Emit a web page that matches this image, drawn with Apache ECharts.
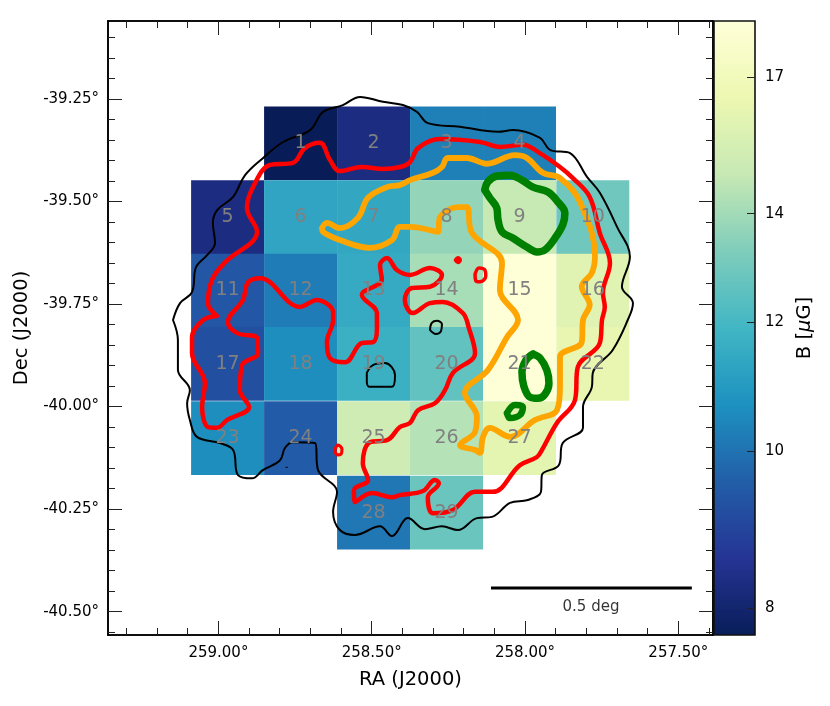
<!DOCTYPE html>
<html><head><meta charset="utf-8">
<style>html,body{margin:0;padding:0;background:#fff}#c{width:830px;height:706px}</style>
<script src="https://cdn.jsdelivr.net/npm/echarts@6/dist/echarts.min.js"></script>
</head><body><div id="c"></div>
<script>
const raMajor=[259.0,258.5,258.0,257.5];
const raMinor=[259.3,259.2,259.1,258.9,258.8,258.7,258.6,258.4,258.3,258.2,258.1,257.9,257.8,257.7,257.6,257.4];
const decMajor=[-39.25,-39.5,-39.75,-40.0,-40.25,-40.5];
const decMinor=[-39.1,-39.15,-39.2,-39.3,-39.35,-39.4,-39.45,-39.55,-39.6,-39.65,-39.7,-39.8,-39.85,-39.9,-39.95,-40.05,-40.1,-40.15,-40.2,-40.3,-40.35,-40.4,-40.45,-40.55];
const colorbarTicks=[8,10,12,14,17];
const bRange=[7.7,18.4];
const raRange=[257.387,259.36];
const decRange=[-40.557,-39.06];
const ylgnbuR=['#081d58','#253494','#225ea8','#1d91c0','#41b6c4','#7fcdbb','#c7e9b4','#edf8b1','#ffffd9'];

const cellRa=[258.732,258.494,258.256,258.018,
 258.970,258.732,258.494,258.256,258.018,257.779,
 258.970,258.732,258.494,258.256,258.018,257.779,
 258.970,258.732,258.494,258.256,258.018,257.779,
 258.970,258.732,258.494,258.256,258.018,
 258.494,258.256];
const cellDec=[-39.3585,-39.3585,-39.3585,-39.3585,
 -39.538,-39.538,-39.538,-39.538,-39.538,-39.538,
 -39.717,-39.717,-39.717,-39.717,-39.717,-39.717,
 -39.896,-39.896,-39.896,-39.896,-39.896,-39.896,
 -40.077,-40.077,-40.077,-40.077,-40.077,
 -40.2585,-40.2585];
const cellB=[7.7,8.3,10.3,10.3,
 8.3,11.3,11.4,13.7,14.8,12.9,
 9.4,10.2,11.5,14.1,18.3,15.9,
 9.2,10.6,11.7,12.6,18.3,16.3,
 10.6,9.5,15.1,14.4,16.1,
 10.1,12.8];
const cellHalfRa=0.119, cellHalfDec=0.0898;

const blackOuter=[[259.148,-39.789],[259.125,-39.748],[259.086,-39.721],[259.073,-39.660],[259.037,-39.631],[259.011,-39.601],[259.018,-39.552],[259.004,-39.521],[258.952,-39.489],[258.913,-39.436],[258.854,-39.394],[258.789,-39.355],[258.701,-39.326],[258.659,-39.282],[258.594,-39.265],[258.538,-39.245],[258.463,-39.257],[258.398,-39.265],[258.352,-39.282],[258.317,-39.309],[258.212,-39.318],[258.088,-39.330],[258.039,-39.326],[257.951,-39.345],[257.919,-39.374],[257.853,-39.382],[257.798,-39.440],[257.756,-39.479],[257.700,-39.562],[257.658,-39.635],[257.684,-39.708],[257.648,-39.748],[257.665,-39.789],[257.714,-39.862],[257.779,-39.918],[257.782,-39.952],[257.811,-40.001],[257.811,-40.052],[257.877,-40.089],[257.890,-40.143],[257.945,-40.167],[257.948,-40.208],[257.991,-40.228],[258.049,-40.235],[258.108,-40.269],[258.157,-40.272],[258.219,-40.301],[258.271,-40.292],[258.326,-40.299],[258.382,-40.272],[258.434,-40.316],[258.473,-40.292],[258.555,-40.313],[258.604,-40.301],[258.626,-40.257],[258.613,-40.208],[258.675,-40.155],[258.685,-40.089],[258.757,-40.087],[258.783,-40.101],[258.799,-40.131],[258.855,-40.155],[258.890,-40.175],[258.936,-40.167],[258.952,-40.106],[258.995,-40.089],[259.070,-40.074],[259.093,-40.033],[259.102,-39.992],[259.093,-39.960],[259.132,-39.911],[259.132,-39.838]];
const blackCell19=[[258.516,-39.918],[258.496,-39.899],[258.457,-39.894],[258.424,-39.923],[258.434,-39.952],[258.506,-39.952],[258.516,-39.940]];
const blackCell14=[[258.310,-39.813],[258.304,-39.796],[258.287,-39.791],[258.271,-39.799],[258.274,-39.816],[258.291,-39.823]];
const blackDot=[[258.780,-40.148],[258.775,-40.148]];

const redMain=[[259.005,-39.779],[259.034,-39.748],[259.021,-39.691],[258.978,-39.648],[258.874,-39.574],[258.907,-39.516],[258.887,-39.465],[258.832,-39.411],[258.757,-39.406],[258.718,-39.370],[258.669,-39.357],[258.636,-39.399],[258.604,-39.426],[258.532,-39.416],[258.463,-39.421],[258.408,-39.416],[258.375,-39.404],[258.349,-39.370],[258.278,-39.348],[258.147,-39.355],[258.082,-39.367],[258.007,-39.362],[257.952,-39.382],[257.886,-39.416],[257.844,-39.443],[257.789,-39.489],[257.756,-39.577],[257.723,-39.650],[257.746,-39.723],[257.740,-39.757],[257.749,-39.789],[257.756,-39.845],[257.828,-39.904],[257.837,-39.984],[257.896,-40.040],[257.945,-40.106],[257.961,-40.123],[258.017,-40.143],[258.105,-40.208],[258.163,-40.208],[258.235,-40.252],[258.300,-40.260],[258.317,-40.221],[258.281,-40.187],[258.294,-40.179],[258.333,-40.206],[258.408,-40.216],[258.434,-40.221],[258.499,-40.211],[258.555,-40.233],[258.558,-40.204],[258.512,-40.179],[258.529,-40.138],[258.506,-40.087],[258.450,-40.082],[258.408,-40.050],[258.375,-40.040],[258.349,-40.009],[258.294,-39.992],[258.261,-39.960],[258.235,-39.918],[258.163,-39.870],[258.183,-39.809],[258.203,-39.772],[258.268,-39.745],[258.310,-39.748],[258.366,-39.772],[258.392,-39.740],[258.369,-39.711],[258.310,-39.708],[258.271,-39.679],[258.310,-39.662],[258.375,-39.679],[258.418,-39.667],[258.450,-39.638],[258.473,-39.655],[258.467,-39.691],[258.532,-39.728],[258.483,-39.772],[258.483,-39.809],[258.496,-39.843],[258.532,-39.845],[258.587,-39.892],[258.636,-39.882],[258.646,-39.843],[258.626,-39.789],[258.626,-39.770],[258.679,-39.740],[258.734,-39.757],[258.864,-39.687],[258.903,-39.697],[258.920,-39.740],[258.969,-39.794],[258.939,-39.821],[258.874,-39.833],[258.871,-39.870],[258.923,-39.899],[258.930,-39.960],[258.900,-40.001],[258.972,-40.033],[259.005,-40.052],[259.034,-40.050],[259.053,-40.001],[259.044,-39.943],[259.086,-39.870],[259.086,-39.831],[259.050,-39.789]];
const redSpot14=[[258.226,-39.643],[258.219,-39.638],[258.212,-39.643],[258.219,-39.648]];
const redRing15=[[258.163,-39.677],[258.150,-39.662],[258.131,-39.667],[258.128,-39.682],[258.147,-39.696],[258.160,-39.694]];
const redRing24=[[258.620,-40.106],[258.610,-40.094],[258.597,-40.104],[258.600,-40.116],[258.613,-40.118]];

const orangeMain=[[258.662,-39.565],[258.646,-39.552],[258.604,-39.565],[258.545,-39.540],[258.512,-39.491],[258.450,-39.465],[258.408,-39.460],[258.375,-39.448],[258.300,-39.430],[258.271,-39.416],[258.252,-39.394],[258.190,-39.394],[258.124,-39.408],[258.033,-39.387],[257.994,-39.394],[257.942,-39.430],[257.886,-39.443],[257.821,-39.501],[257.772,-39.635],[257.782,-39.674],[257.815,-39.708],[257.789,-39.752],[257.811,-39.789],[257.815,-39.843],[257.886,-39.879],[257.886,-39.952],[257.896,-40.009],[257.968,-40.033],[258.049,-40.074],[258.115,-40.052],[258.137,-40.074],[258.147,-40.113],[258.163,-40.106],[258.212,-40.094],[258.163,-40.062],[258.157,-40.025],[258.196,-39.967],[258.121,-39.911],[258.059,-39.831],[258.023,-39.789],[258.082,-39.716],[258.075,-39.650],[258.173,-39.577],[258.190,-39.514],[258.219,-39.514],[258.278,-39.540],[258.284,-39.574],[258.375,-39.562],[258.408,-39.562],[258.434,-39.594],[258.506,-39.613],[258.604,-39.594],[258.659,-39.574]];

const green9=[[258.131,-39.472],[258.121,-39.452],[258.092,-39.438],[258.049,-39.436],[258.010,-39.448],[257.974,-39.465],[257.925,-39.477],[257.893,-39.501],[257.870,-39.528],[257.876,-39.555],[257.902,-39.589],[257.935,-39.618],[257.961,-39.623],[257.994,-39.611],[258.040,-39.589],[258.075,-39.574],[258.088,-39.545],[258.092,-39.516],[258.115,-39.491]];
const green21=[[257.974,-39.872],[257.951,-39.882],[257.929,-39.911],[257.922,-39.943],[257.935,-39.970],[257.958,-39.980],[257.984,-39.977],[258.004,-39.950],[258.010,-39.916],[257.997,-39.887]];
const green27=[[258.059,-40.016],[258.033,-39.996],[258.007,-40.001],[258.017,-40.021],[258.049,-40.028]];

const scaleBar=[[258.111,-40.4425],[257.456,-40.4425]];
const scaleLabel=[[257.785,-40.489]];

const FONT='"DejaVu Sans"';
const lg=Math.log10;
function colorFor(b){
  const t=Math.max(0,Math.min(1,(lg(b)-lg(bRange[0]))/(lg(bRange[1])-lg(bRange[0]))))*(ylgnbuR.length-1);
  const i=Math.min(ylgnbuR.length-2,Math.floor(t)),f=t-i;
  const p=h=>[1,3,5].map(k=>parseInt(h.substr(k,2),16));
  const a=p(ylgnbuR[i]),c=p(ylgnbuR[i+1]);
  return 'rgb('+a.map((v,k)=>Math.round(v+(c[k]-v)*f)).join(',')+')';
}
function xAx(pos,vals,major,labels){
  return {type:'value',gridIndex:0,position:pos,inverse:true,min:raRange[0],max:raRange[1],splitLine:{show:false},
    axisLine:{show:true,onZero:false,lineStyle:{color:'#000',width:1.6}},
    axisTick:{show:true,inside:true,length:major?14:7,customValues:vals,lineStyle:{color:'#222',width:1}},
    axisLabel:labels?{show:true,customValues:vals,margin:11,color:'#000',fontFamily:FONT,fontSize:15,hideOverlap:false,showMinLabel:true,showMaxLabel:true,formatter:v=>v.toFixed(2)+'°'}:{show:false},
    name:labels?'RA (J2000)':'',nameLocation:'middle',nameGap:35,nameTextStyle:{color:'#000',fontFamily:FONT,fontSize:19.5}};
}
function yAx(pos,vals,major,labels){
  return {type:'value',gridIndex:0,position:pos,min:decRange[0],max:decRange[1],splitLine:{show:false},
    axisLine:{show:true,onZero:false,lineStyle:{color:'#000',width:1.6}},
    axisTick:{show:true,inside:true,length:major?14:7,customValues:vals,lineStyle:{color:'#222',width:1}},
    axisLabel:labels?{show:true,customValues:vals,margin:9,color:'#000',fontFamily:FONT,fontSize:15,formatter:v=>v.toFixed(2)+'°'}:{show:false},
    name:labels?'Dec (J2000)':'',nameLocation:'middle',nameGap:76,nameRotate:90,nameTextStyle:{color:'#000',fontFamily:FONT,fontSize:19.5}};
}
function lineS(data,color,width,closed,z){
  return {type:'line',xAxisIndex:0,yAxisIndex:0,data:closed?data.concat([data[0]]):data,symbol:'none',smooth:0.38,silent:true,animation:false,z:z,
    lineStyle:{color:color,width:width,cap:'round',join:'round'}};
}
const cellData=cellRa.map((r,i)=>[r,cellDec[i],cellB[i],i+1]);
const option={
 animation:false,backgroundColor:'#fff',
 grid:[{left:108,top:21,width:605,height:614,containLabel:false},{left:714,top:21,width:41,height:614,containLabel:false}],
 xAxis:[xAx('bottom',raMajor,true,true),xAx('bottom',raMinor,false,false),xAx('top',raMajor,true,false),xAx('top',raMinor,false,false),
   {type:'value',gridIndex:1,min:0,max:1,show:false}],
 yAxis:[yAx('left',decMajor,true,true),yAx('left',decMinor,false,false),yAx('right',decMajor,true,false),yAx('right',decMinor,false,false),
   {type:'value',gridIndex:1,position:'right',min:lg(bRange[0]),max:lg(bRange[1]),z:5,splitLine:{show:false},
    axisLine:{show:false,onZero:false},
    axisTick:{show:true,inside:true,length:8,customValues:colorbarTicks.map(lg),lineStyle:{color:'#222',width:1}},
    axisLabel:{show:true,customValues:colorbarTicks.map(lg),margin:10,color:'#000',fontFamily:FONT,fontSize:15,formatter:v=>String(Math.round(Math.pow(10,v)))},
    name:'{a|B [}{b|μ}{a|G]}',nameLocation:'middle',nameGap:40,nameRotate:90,
    nameTextStyle:{rich:{a:{color:'#000',fontFamily:FONT,fontSize:19.5},b:{color:'#000',fontFamily:FONT,fontSize:19.5,fontStyle:'italic'}}}}],
 series:[
  {type:'custom',xAxisIndex:0,yAxisIndex:0,data:cellData,z:2,silent:true,animation:false,clip:false,
   renderItem:(p,api)=>{
     const a=api.coord([api.value(0)+cellHalfRa,api.value(1)+cellHalfDec]);
     const b=api.coord([api.value(0)-cellHalfRa,api.value(1)-cellHalfDec]);
     return {type:'rect',shape:{x:a[0],y:a[1],width:b[0]-a[0],height:b[1]-a[1]},style:{fill:colorFor(api.value(2))}};
   }},
  lineS(blackOuter,'#000',2,true,3),lineS(blackCell19,'#000',2,true,3),lineS(blackCell14,'#000',2,true,3),lineS(blackDot,'#000',1.2,false,3),
  lineS(redMain,'#ff0000',4.5,true,4),lineS(redSpot14,'#ff0000',4,true,4),lineS(redRing15,'#ff0000',3.5,true,4),lineS(redRing24,'#ff0000',3.2,true,4),
  lineS(orangeMain,'#ffa500',5.8,true,5),
  lineS(green9,'#008000',7.5,true,6),lineS(green21,'#008000',7.5,true,6),lineS(green27,'#008000',6.5,true,6),
  {type:'custom',xAxisIndex:0,yAxisIndex:0,data:cellData,z:8,silent:true,animation:false,clip:false,
   renderItem:(p,api)=>{
     const c=api.coord([api.value(0),api.value(1)]);
     return {type:'text',style:{text:String(api.value(3)),x:c[0],y:c[1],align:'center',verticalAlign:'middle',fill:'#808080',fontFamily:FONT,fontSize:19}};
   }},
  {type:'line',xAxisIndex:0,yAxisIndex:0,data:scaleBar,symbol:'none',silent:true,z:7,lineStyle:{color:'#000',width:3,cap:'butt'}},
  {type:'scatter',xAxisIndex:0,yAxisIndex:0,data:scaleLabel,symbolSize:0,silent:true,z:7,
   label:{show:true,position:'inside',formatter:'0.5 deg',color:'#000',fontFamily:FONT,fontSize:15}},
  {type:'custom',xAxisIndex:4,yAxisIndex:4,data:[[0,lg(bRange[0]),1,lg(bRange[1])]],z:2,silent:true,animation:false,clip:false,
   renderItem:(p,api)=>{
     const a=api.coord([api.value(0),api.value(3)]),b=api.coord([api.value(2),api.value(1)]);
     return {type:'rect',shape:{x:a[0],y:a[1],width:b[0]-a[0],height:b[1]-a[1]},
       style:{stroke:'#111',lineWidth:1.6,fill:new echarts.graphic.LinearGradient(0,1,0,0,ylgnbuR.map((c,i)=>({offset:i/(ylgnbuR.length-1),color:c})))}};
   }}
 ]
};
const chart=echarts.init(document.getElementById('c'),null,{renderer:'canvas'});
chart.setOption(option);
</script></body></html>
